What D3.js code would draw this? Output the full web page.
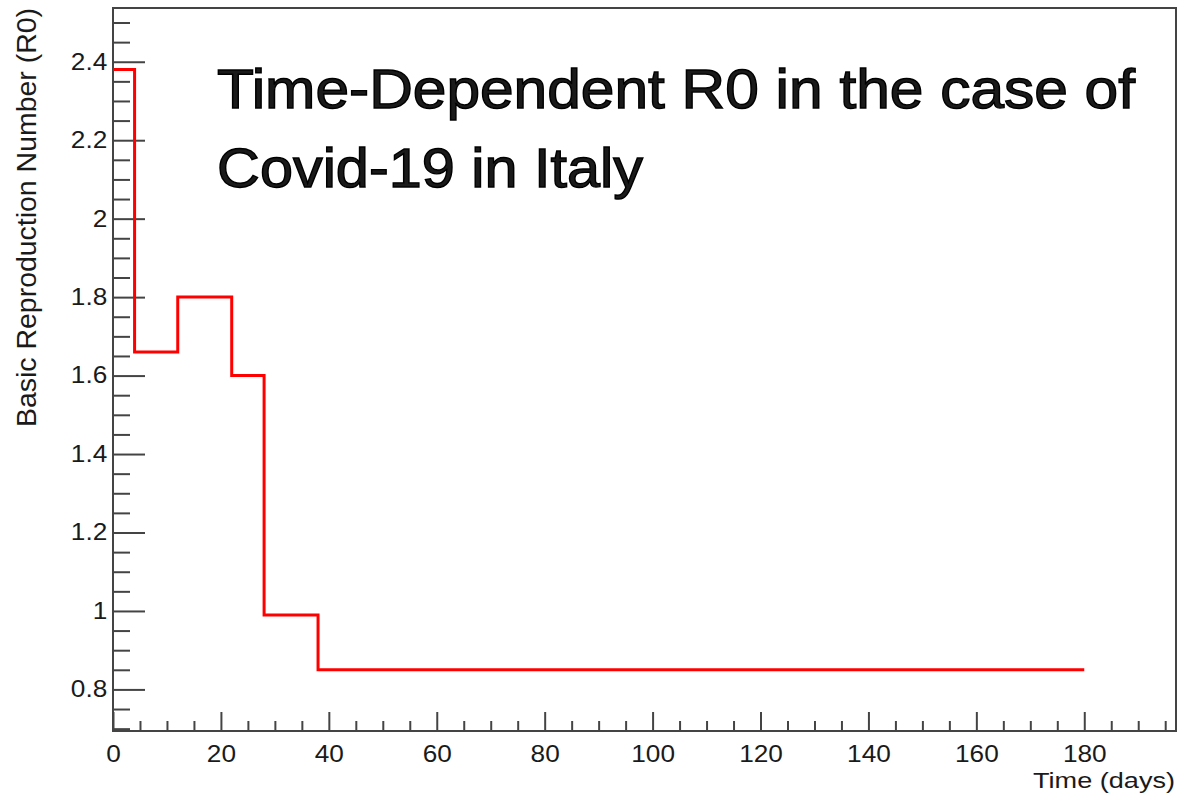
<!DOCTYPE html>
<html>
<head>
<meta charset="utf-8">
<script src="https://cdn.jsdelivr.net/npm/d3@7"></script>
<style>
  body { margin: 0; background: #fff; }
  svg { display: block; }
  text { font-family: "Liberation Sans", Arial, Helvetica, sans-serif; fill: #1a1a1a; }
</style>
</head>
<body>
<div id="chart"></div>
<script>
// bin edges (days) and R0 value in each interval
var edges = [0, 4, 12, 22, 28, 38, 180];
var r0 = [2.38, 1.66, 1.80, 1.60, 0.99, 0.85];

var xMajor = [0, 20, 40, 60, 80, 100, 120, 140, 160, 180];
var yMajor = [0.8, 1.0, 1.2, 1.4, 1.6, 1.8, 2.0, 2.2, 2.4];
var xDomain = [0, 197];
var yDomain = [0.694, 2.537];

var W = 1181, H = 799;
var frame = {left: 113, top: 8, right: 1176, bottom: 731};

var svg = d3.select("#chart").append("svg")
    .attr("width", W).attr("height", H);

var x = d3.scaleLinear().domain(xDomain).range([frame.left, frame.right]);
var y = d3.scaleLinear().domain(yDomain).range([frame.bottom, frame.top]);

// minor ticks
var xMinor = d3.range(5, 200, 5).filter(d => d % 20 != 0);
var yMinor = d3.range(14, 51).map(d => d * 0.05).filter(d => Math.round(d * 100) % 20 != 0);

function styleAxis(g) {
  g.select(".domain").remove();
  g.selectAll("line").attr("stroke", "#444").attr("stroke-width", 2);
}

svg.append("g")
    .attr("transform", "translate(0," + frame.bottom + ")")
    .call(d3.axisBottom(x).tickValues(xMinor).tickSize(-10).tickFormat(""))
    .call(styleAxis);

svg.append("g")
    .attr("transform", "translate(0," + frame.bottom + ")")
    .call(d3.axisBottom(x).tickValues(xMajor).tickSize(-19).tickPadding(15).tickFormat(d3.format("d")))
    .call(styleAxis)
    .call(g => g.selectAll("text")
        .attr("font-size", 23)
        .attr("fill", "#1a1a1a")
        .attr("transform", "scale(1.14,1)"));

svg.append("g")
    .attr("transform", "translate(" + frame.left + ",0)")
    .call(d3.axisLeft(y).tickValues(yMinor).tickSize(-17).tickFormat(""))
    .call(styleAxis);

svg.append("g")
    .attr("transform", "translate(" + frame.left + ",0)")
    .call(d3.axisLeft(y).tickValues(yMajor).tickSize(-32).tickPadding(5).tickFormat(d => d3.format("")(+d.toFixed(1))))
    .call(styleAxis)
    .call(g => g.selectAll("text")
        .attr("font-size", 23)
        .attr("fill", "#1a1a1a")
        .attr("transform", "scale(1.14,1)"));

// frame
svg.append("rect")
    .attr("x", frame.left).attr("y", frame.top)
    .attr("width", frame.right - frame.left)
    .attr("height", frame.bottom - frame.top)
    .attr("fill", "none")
    .attr("stroke", "#444")
    .attr("stroke-width", 2);

// step line
var pts = edges.map((e, i) => [e, r0[Math.min(i, r0.length - 1)]]);
var line = d3.line()
    .x(d => x(d[0]))
    .y(d => y(d[1]))
    .curve(d3.curveStepAfter);

svg.append("path")
    .datum(pts)
    .attr("d", line)
    .attr("fill", "none")
    .attr("stroke", "#ff0000")
    .attr("stroke-width", 3);

// axis titles
svg.append("text")
    .attr("x", 1175).attr("y", 788)
    .attr("text-anchor", "end")
    .attr("font-size", 22)
    .attr("textLength", 142)
    .attr("lengthAdjust", "spacingAndGlyphs")
    .text("Time (days)");

svg.append("text")
    .attr("transform", "translate(36,8) rotate(-90)")
    .attr("text-anchor", "end")
    .attr("font-size", 27)
    .attr("textLength", 419)
    .attr("lengthAdjust", "spacingAndGlyphs")
    .text("Basic Reproduction Number (R0)");

// big title, a bit heavier than the regular face
svg.append("text")
    .attr("x", 217).attr("y", 108)
    .attr("font-size", 56)
    .attr("fill", "#000")
    .attr("stroke", "#000").attr("stroke-width", 1.4)
    .attr("textLength", 918)
    .attr("lengthAdjust", "spacingAndGlyphs")
    .text("Time-Dependent R0 in the case of");

svg.append("text")
    .attr("x", 217).attr("y", 187)
    .attr("font-size", 56)
    .attr("fill", "#000")
    .attr("stroke", "#000").attr("stroke-width", 1.4)
    .attr("textLength", 426)
    .attr("lengthAdjust", "spacingAndGlyphs")
    .text("Covid-19 in Italy");
</script>
</body>
</html>
